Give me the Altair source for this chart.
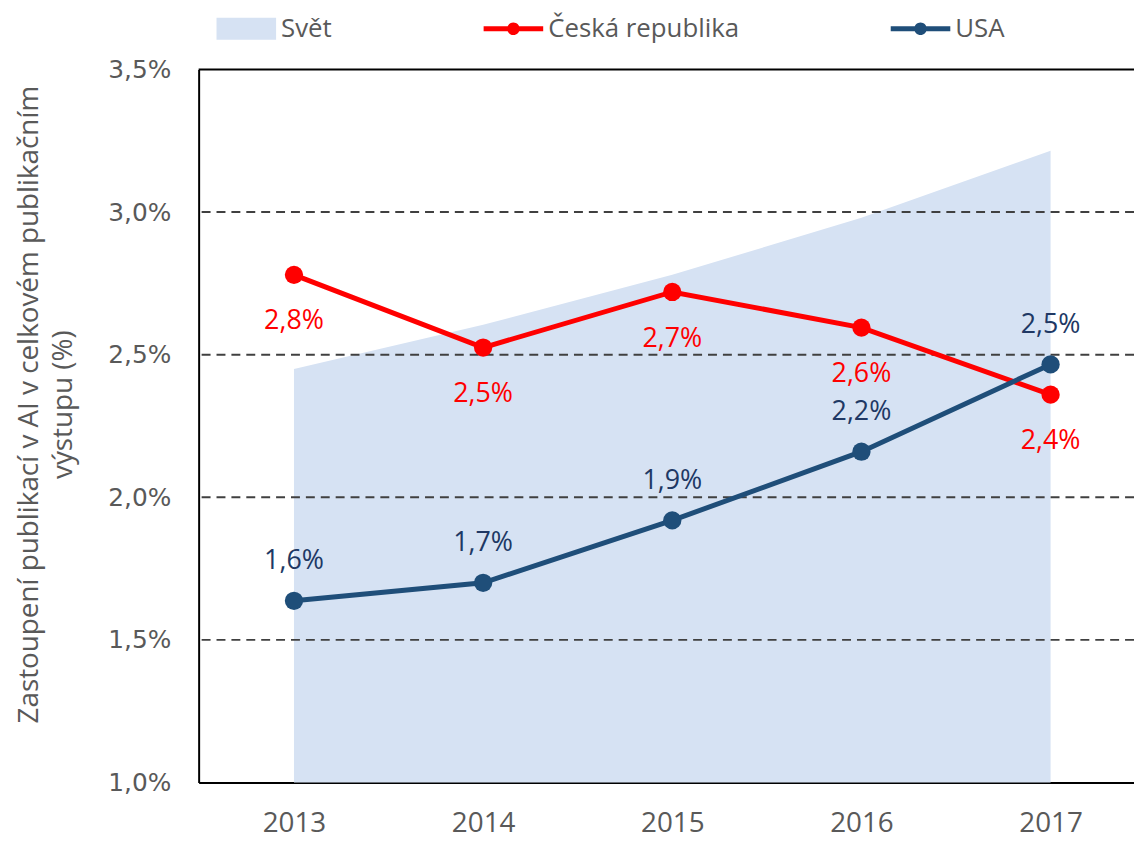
import altair as alt
import pandas as pd

years = [2013, 2014, 2015, 2016, 2017]
svet = [2.45, 2.605, 2.78, 2.98, 3.215]
cz = [2.78, 2.525, 2.72, 2.595, 2.36]
usa = [1.637, 1.70, 1.919, 2.16, 2.466]
cz_labels = ["2,8%", "2,5%", "2,7%", "2,6%", "2,4%"]
usa_labels = ["1,6%", "1,7%", "1,9%", "2,2%", "2,5%"]
series = ["Svět", "Česká republika", "USA"]
series_colors = ["#d6e2f3", "#ff0000", "#1f4e79"]
grid_values = [1.5, 2.0, 2.5, 3.0]
y_ticks = [1.0, 1.5, 2.0, 2.5, 3.0, 3.5]
frame_top = [3.5]
y_title = ["Zastoupení publikací v AI v celkovém publikačním", "výstupu (%)"]

rect_path = "M-2,-0.74H2V0.74H-2Z"
line_dot_path = ("M-2,-0.17H2V0.17H-2Z "
                 "M0.42,0A0.42,0.42,0,1,1,-0.42,0A0.42,0.42,0,1,1,0.42,0Z")
series_shapes = [rect_path, line_dot_path, line_dot_path]

df_svet = pd.DataFrame({"year": years, "value": svet})
df_cz = pd.DataFrame({"year": years, "value": cz, "label": cz_labels})
df_usa = pd.DataFrame({"year": years, "value": usa, "label": usa_labels})
df_grid = pd.DataFrame({"value": grid_values})
df_top = pd.DataFrame({"value": frame_top})
df_leg = pd.DataFrame({"series": series, "year": [years[0]] * 3, "value": [svet[0]] * 3})

x_scale = alt.Scale(domain=[2012.496, 2017.441], nice=False, zero=False)
y_scale = alt.Scale(domain=[1.0, 3.5], nice=False, zero=False)

x_axis = alt.Axis(values=years, format="d", grid=False, ticks=False,
                  domainColor="#000000", domainWidth=2,
                  labelFont="Open Sans", labelFontSize=28, labelColor="#595959",
                  labelPadding=27, title=None)
y_axis = alt.Axis(values=y_ticks,
                  labelExpr="replace(format(datum.value, '.1f'), '.', ',') + '%'",
                  grid=False, ticks=False, domainColor="#000000", domainWidth=2,
                  labelFont="DejaVu Sans", labelFontSize=25, labelColor="#595959",
                  labelPadding=28, title=y_title, titleFont="Open Sans",
                  titleFontSize=28, titleFontWeight="normal", titleColor="#595959",
                  titleAngle=270, titleX=-170, titleY=337, titleAlign="center",
                  titleBaseline="middle", titleLineHeight=34)

X = alt.X("year:Q", scale=x_scale, axis=x_axis)
Y = alt.Y("value:Q", scale=y_scale, axis=y_axis)

area = alt.Chart(df_svet).mark_area(color="#d6e2f3", opacity=1).encode(
    x=X, y=Y, y2=alt.datum(1.0)
)

grid = alt.Chart(df_grid).mark_rule(color="#404040", strokeWidth=2, strokeDash=[9, 6]).encode(
    y=Y
)

top = alt.Chart(df_top).mark_rule(color="#000000", strokeWidth=2).encode(y=Y)

cz_line = alt.Chart(df_cz).mark_line(color="#ff0000", strokeWidth=5).encode(x=X, y=Y)
cz_pts = alt.Chart(df_cz).mark_circle(color="#ff0000", size=340, opacity=1).encode(x=X, y=Y)
cz_txt = alt.Chart(df_cz).mark_text(color="#ff0000", font="Open Sans", fontSize=27,
                                    dy=47, baseline="middle").encode(x=X, y=Y, text="label:N")

usa_line = alt.Chart(df_usa).mark_line(color="#1f4e79", strokeWidth=5).encode(x=X, y=Y)
usa_pts = alt.Chart(df_usa).mark_circle(color="#1f4e79", size=340, opacity=1).encode(x=X, y=Y)
usa_txt = alt.Chart(df_usa).mark_text(color="#203864", font="Open Sans", fontSize=27,
                                      dy=-40, baseline="middle").encode(x=X, y=Y, text="label:N")

leg_props = dict(orient="none", legendX=33, legendY=-56, direction="horizontal",
                 columns=3, title=None, symbolSize=900, symbolStrokeWidth=0,
                 symbolOpacity=1, labelFont="Open Sans", labelFontSize=26,
                 labelColor="#595959", labelOffset=20, columnPadding=152,
                 padding=0, labelLimit=500)

legend_layer = alt.Chart(df_leg).mark_point(filled=True, opacity=0).encode(
    x=X, y=Y,
    color=alt.Color("series:N", scale=alt.Scale(domain=series, range=series_colors),
                    legend=alt.Legend(**leg_props)),
    shape=alt.Shape("series:N", scale=alt.Scale(domain=series, range=series_shapes),
                    legend=alt.Legend(**leg_props)),
)

chart = alt.layer(
    area, grid, top, cz_line, usa_line, cz_pts, usa_pts, cz_txt, usa_txt, legend_layer
).properties(
    width=942, height=718,
    autosize=alt.AutoSizeParams(type="none"),
    padding={"left": 192, "top": 59, "right": 0, "bottom": 58},
).configure_view(stroke=None)

chart.save("out.html", embed_options={"renderer": "svg", "actions": False})
